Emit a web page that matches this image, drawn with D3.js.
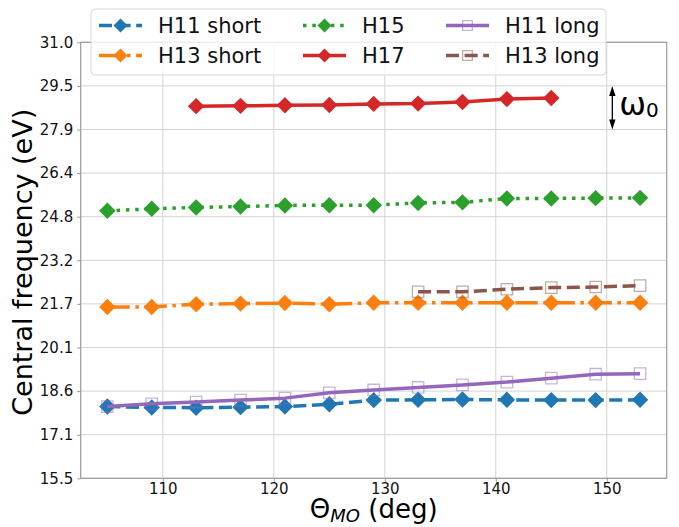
<!DOCTYPE html>
<html>
<head>
<meta charset="UTF-8">
<style>
  body { margin: 0; background: #fff; font-family: "DejaVu Sans", sans-serif; }
  svg { display: block; }
</style>
</head>
<body>
<svg id="chart" width="679" height="527"></svg>
<script src="https://d3js.org/d3.v7.min.js"></script>
<script>
// data
const angles = [105, 109, 113, 117, 121, 125, 129, 133, 137, 141, 145, 149, 153];
const anglesH17 = [113, 117, 121, 125, 129, 133, 137, 141, 145];
const anglesH13long = [133, 137, 141, 145, 149, 153];

const h11short = [18.05, 18.02, 18.01, 18.03, 18.05, 18.13, 18.28, 18.29, 18.30, 18.29, 18.28, 18.28, 18.29];
const h13short = [21.59, 21.59, 21.69, 21.71, 21.73, 21.69, 21.74, 21.74, 21.74, 21.74, 21.74, 21.74, 21.74];
const h15 = [25.01, 25.08, 25.13, 25.16, 25.20, 25.21, 25.21, 25.29, 25.31, 25.45, 25.45, 25.46, 25.47];
const h17 = [28.73, 28.74, 28.76, 28.77, 28.81, 28.82, 28.88, 28.98, 29.02];
const h11long = [18.05, 18.15, 18.21, 18.28, 18.35, 18.54, 18.64, 18.73, 18.82, 18.92, 19.06, 19.20, 19.22];
const h13long = [22.13, 22.13, 22.22, 22.28, 22.30, 22.35];

const xTicks = [110, 120, 130, 140, 150];
const yTicks = [15.5, 17.05, 18.6, 20.15, 21.7, 23.25, 24.8, 26.35, 27.9, 29.45, 31.0];
const yTickLabels = ["15.5", "17.1", "18.6", "20.1", "21.7", "23.2", "24.8", "26.4", "27.9", "29.5", "31.0"];

const series = [
  {name: "H11 short", x: angles, y: h11short, color: "#1f77b4", dash: "13,5.6", marker: "D"},
  {name: "H13 short", x: angles, y: h13short, color: "#ff7f0e", dash: "22.4,5.6,3.5,5.6", marker: "D"},
  {name: "H15", x: angles, y: h15, color: "#2ca02c", dash: "3.5,5.8", marker: "D"},
  {name: "H17", x: anglesH17, y: h17, color: "#d62728", dash: null, marker: "D"},
  {name: "H11 long", x: angles, y: h11long, color: "#9467bd", dash: null, marker: "s"},
  {name: "H13 long", x: anglesH13long, y: h13long, color: "#8c564b", dash: "13,5.6", marker: "s"}
];

const m = {left: 80.7, right: 666.7, top: 42.3, bottom: 478.3};

const svg = d3.select("#chart");

const x = d3.scaleLinear().domain([102.6, 155.4]).range([m.left, m.right]);
const y = d3.scaleLinear().domain([15.5, 31.0]).range([m.bottom, m.top]);

// grid
svg.append("g").selectAll("line").data(xTicks).enter().append("line")
  .attr("x1", d => x(d)).attr("x2", d => x(d))
  .attr("y1", m.top).attr("y2", m.bottom)
  .attr("stroke", "#d3d3d3").attr("stroke-width", 1);
svg.append("g").selectAll("line").data(yTicks).enter().append("line")
  .attr("y1", d => y(d)).attr("y2", d => y(d))
  .attr("x1", m.left).attr("x2", m.right)
  .attr("stroke", "#d3d3d3").attr("stroke-width", 1);

// axes
const xAxis = d3.axisBottom(x).tickValues(xTicks).tickSize(3.5).tickPadding(2).tickFormat(d3.format("d"));
const yAxis = d3.axisLeft(y).tickValues(yTicks).tickSize(3.5).tickPadding(4)
  .tickFormat((d, i) => yTickLabels[i]);

const gx = svg.append("g").attr("transform", `translate(0,${m.bottom})`).call(xAxis);
const gy = svg.append("g").attr("transform", `translate(${m.left},0)`).call(yAxis);
[gx, gy].forEach(g => {
  g.select(".domain").remove();
  g.selectAll(".tick line").attr("stroke", "#999");
  g.selectAll(".tick text").attr("fill", "#111").style("font-size", "15px")
    .style("font-family", "DejaVu Sans");
});

// frame
svg.append("rect")
  .attr("x", m.left).attr("y", m.top)
  .attr("width", m.right - m.left).attr("height", m.bottom - m.top)
  .attr("fill", "none").attr("stroke", "#999").attr("stroke-width", 1.2);

// lines and markers
function drawMarker(g, s, cx, cy, scale) {
  if (s.marker === "D") {
    g.append("path")
      .attr("d", d3.symbol().type(d3.symbolSquare).size(135 * scale * scale))
      .attr("transform", `translate(${cx},${cy}) rotate(45)`)
      .attr("fill", s.color);
  } else {
    g.append("path")
      .attr("d", d3.symbol().type(d3.symbolSquare).size(130 * scale * scale))
      .attr("transform", `translate(${cx},${cy})`)
      .attr("fill", "none").attr("stroke", s.color)
      .attr("stroke-opacity", 0.5).attr("stroke-width", 1.3);
  }
}

const line = d3.line().x(d => x(d[0])).y(d => y(d[1]));

series.forEach(s => {
  const pts = s.x.map((v, i) => [v, s.y[i]]);
  const g = svg.append("g");
  g.append("path")
    .attr("d", line(pts))
    .attr("fill", "none")
    .attr("stroke", s.color)
    .attr("stroke-width", 3.5)
    .attr("stroke-dasharray", s.dash)
    .attr("stroke-linejoin", "round");
  pts.forEach(p => drawMarker(g, s, x(p[0]), y(p[1]), 1));
});

// omega_0 annotation
const ax = x(150.5);
const ann = svg.append("g");
ann.append("line")
  .attr("x1", ax).attr("x2", ax)
  .attr("y1", y(29.45) + 6).attr("y2", y(27.9) - 6)
  .attr("stroke", "#000").attr("stroke-width", 1.3);
ann.append("path")
  .attr("d", `M${ax},${y(29.45)} l-3.2,10 l6.4,0 z M${ax},${y(27.9)} l-3.2,-10 l6.4,0 z`)
  .attr("fill", "#000");
ann.append("text")
  .attr("x", ax + 7).attr("y", y(28.4))
  .style("font-size", "32px").style("font-family", "DejaVu Sans")
  .text("ω")
  .append("tspan").attr("dy", 2).style("font-size", "20px").text("0");

// axis labels
svg.append("text")
  .attr("transform", `translate(32,${(m.top + m.bottom) / 2 + 2}) rotate(-90)`)
  .attr("text-anchor", "middle")
  .style("font-size", "27px").style("font-family", "DejaVu Sans")
  .text("Central frequency (eV)");

const xl = svg.append("text")
  .attr("x", (m.left + m.right) / 2).attr("y", 518)
  .attr("text-anchor", "middle")
  .style("font-size", "26px").style("font-family", "DejaVu Sans");
xl.append("tspan").text("Θ");
xl.append("tspan").attr("dy", 4).style("font-size", "18px").style("font-style", "italic").text("MO");
xl.append("tspan").attr("dy", -4).text(" (deg)");

// legend
const leg = svg.append("g");
leg.append("rect")
  .attr("x", 91).attr("y", 9).attr("width", 515).attr("height", 66)
  .attr("rx", 4)
  .attr("fill", "#fff").attr("fill-opacity", 0.8)
  .attr("stroke", "#d8d8d8").attr("stroke-width", 1);

const colX = [99, 303, 446];
const rowY = [25.5, 55.5];
series.forEach((s, i) => {
  const cx = colX[Math.floor(i / 2)];
  const cy = rowY[i % 2];
  const g = leg.append("g");
  g.append("line")
    .attr("x1", cx).attr("x2", cx + 43)
    .attr("y1", cy).attr("y2", cy)
    .attr("stroke", s.color).attr("stroke-width", 3.5)
    .attr("stroke-dasharray", s.dash);
  drawMarker(g, s, cx + 21.5, cy, 0.85);
  g.append("text")
    .attr("x", cx + 59).attr("y", cy + 7.5)
    .style("font-size", "21px").style("font-family", "DejaVu Sans")
    .attr("fill", "#111")
    .text(s.name);
});
</script>
</body>
</html>
